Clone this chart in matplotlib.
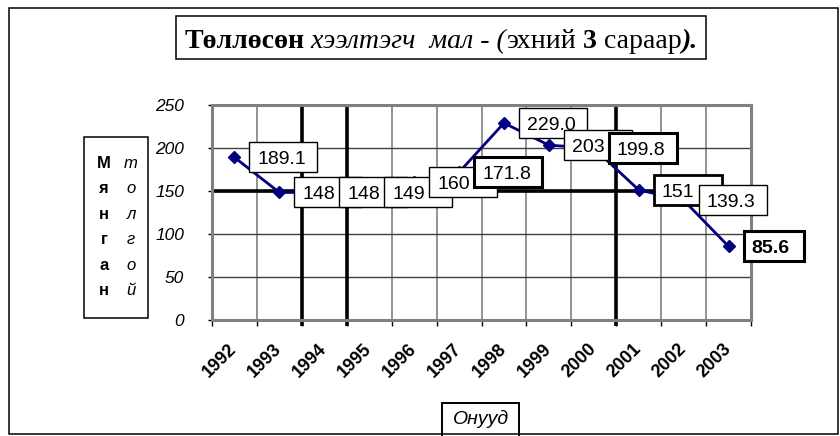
import matplotlib
matplotlib.use("Agg")
import matplotlib.pyplot as plt
from matplotlib.patches import Rectangle
from matplotlib.transforms import Affine2D, ScaledTranslation, blended_transform_factory

# ---------------- data ----------------
years = ["1992", "1993", "1994", "1995", "1996", "1997",
         "1998", "1999", "2000", "2001", "2002", "2003"]
values = [189.1, 148.3, 148.4, 149.4, 160.5, 171.8,
          229.0, 203.3, 199.8, 151.3, 139.3, 85.6]
value_labels = ["189.1", "148", "148", "149", "160", "171.8",
                "229.0", "203", "199.8", "151", "139.3", "85.6"]
y_ticks = [0, 50, 100, 150, 200, 250]
y_title_bold = ["М", "я", "н", "г", "а", "н"]
y_title_italic = ["т", "о", "л", "г", "о", "й"]
x_title = "Онууд"
title_parts = ["Төллөсөн", " хээлтэгч  мал - (", "эхний", " 3", " сараар", ")."]

# ---------------- styles ----------------
title_styles = [("bold", "normal"), ("normal", "italic"), ("normal", "normal"),
                ("bold", "normal"), ("normal", "normal"), ("bold", "italic")]
label_lw = [1, 1, 1, 1, 1, 2.2, 1, 1, 2.2, 2.0, 1, 2.2]
label_bold = [False] * 11 + [True]
label_w = [68, 68, 68, 68, 68, 68, 68, 68, 68, 68, 68, 60]

W, H = 840, 436
SANS = "Liberation Sans"
SERIF = "Liberation Serif"
plt.rcParams["font.family"] = [SANS, "DejaVu Sans"]

fig = plt.figure(figsize=(W / 100, H / 100), dpi=100)
fig.patch.set_facecolor("white")


def fx(px):
    return px / W


def fy(py):
    return 1 - py / H


# plot area (pixel coords: left 212, right 751, top 105, bottom 320)
ax = fig.add_axes([fx(212), fy(320), (751 - 212) / W, (320 - 105) / H])
n = len(years)
xc = [i + 0.5 for i in range(n)]
ax.set_xlim(0, n)
ax.set_ylim(0, 250)

# grid
ax.set_xticks(range(n + 1))
ax.set_xticklabels([])
ax.set_yticks(y_ticks)
ax.set_yticklabels([str(t) for t in y_ticks], fontstyle="italic", fontsize=12.5)
ax.grid(axis="x", which="major", color="#808080", lw=1.2, zorder=1)
ax.grid(axis="y", which="major", color="#404040", lw=1.0, zorder=1)
ax.set_axisbelow(True)

ax.set_xticks(xc, minor=True)
ax.set_xticklabels(years, minor=True, rotation=45, ha="right", va="center",
                   rotation_mode="anchor", fontweight="bold", fontsize=13)
ax.tick_params(axis="x", which="minor", length=0, pad=19)
ax.tick_params(axis="x", which="major", length=4.5, width=1, direction="out")
ax.tick_params(axis="y", length=3, width=1, direction="out", pad=17)

for s in ax.spines.values():
    s.set_color("#808080")
    s.set_linewidth(2.2)

ax.axhline(0, color="black", lw=1.2, zorder=2)
ax.axvline(0, color="#303030", lw=1.2, zorder=2)

# heavy reference lines (extending slightly below the axis like thick ticks)
ax.axhline(150, color="black", lw=2.6, zorder=2)
btr = blended_transform_factory(ax.transData, ax.transAxes)
for xv in (2, 3, 9):
    ax.plot([xv, xv], [-0.03, 1], transform=btr, color="black", lw=2.6,
            zorder=2, clip_on=False, solid_capstyle="butt")

# series
ax.plot(xc, values, color="#000080", lw=2, marker="D", ms=6.5, zorder=5)

# data labels
for i, (xi, v, lab) in enumerate(zip(xc, values, value_labels)):
    tr = Affine2D() + ScaledTranslation(xi, v, ax.transData)
    ax.add_patch(Rectangle((15, -15), label_w[i], 30, transform=tr,
                           facecolor="white", edgecolor="black",
                           lw=label_lw[i], zorder=10 + 2 * i, clip_on=False))
    ax.text(23, -7, lab, transform=tr, ha="left", va="baseline", fontsize=14,
            fontweight="bold" if label_bold[i] else "normal",
            zorder=11 + 2 * i, clip_on=False)

# ---------------- outer frame ----------------
fig.add_artist(Rectangle((fx(9), fy(434)), (838 - 9) / W, (434 - 8) / H,
                         transform=fig.transFigure, fill=False,
                         edgecolor="black", lw=1.1))

# ---------------- title ----------------
fig.add_artist(Rectangle((fx(176), fy(59)), (706 - 176) / W, (59 - 16) / H,
                         transform=fig.transFigure, fill=False,
                         edgecolor="black", lw=1.1))
renderer = fig.canvas.get_renderer()


def make_runs(size):
    objs = []
    for p, (wt, st) in zip(title_parts, title_styles):
        t = fig.text(0, fy(48), p, fontsize=size, fontweight=wt, fontstyle=st,
                     family=[SERIF, "DejaVu Serif"], ha="left", va="baseline")
        objs.append(t)
    widths = [t.get_window_extent(renderer).width for t in objs]
    return objs, widths


objs, widths = make_runs(17)
total = sum(widths)
target = 513
size = 17 * target / total
for t in objs:
    t.remove()
objs, widths = make_runs(size)
x = 441 - sum(widths) / 2
for t, w in zip(objs, widths):
    t.set_x(fx(x))
    x += w

# ---------------- y-axis title ----------------
fig.add_artist(Rectangle((fx(84), fy(318)), (148 - 84) / W, (318 - 137) / H,
                         transform=fig.transFigure, fill=False,
                         edgecolor="black", lw=1.1))
for k, (b, it) in enumerate(zip(y_title_bold, y_title_italic)):
    yy = 163 + k * 25.5
    fig.text(fx(104), fy(yy), b, fontsize=12, fontweight="bold",
             ha="center", va="center")
    fig.text(fx(131), fy(yy), it, fontsize=12, fontstyle="italic",
             ha="center", va="center")

# ---------------- x-axis title ----------------
fig.add_artist(Rectangle((fx(442), fy(437)), (519 - 442) / W, (437 - 403) / H,
                         transform=fig.transFigure, fill=False,
                         edgecolor="black", lw=1.4))
fig.text(fx(481), fy(419), x_title, fontsize=14, fontstyle="italic",
         ha="center", va="center")

fig.savefig("out.png", dpi=100, facecolor="white")
